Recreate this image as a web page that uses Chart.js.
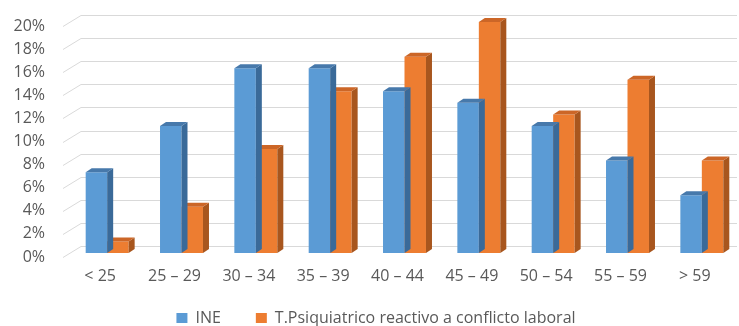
<!DOCTYPE html>
<html>
<head>
<meta charset="utf-8">
<script src="https://cdn.jsdelivr.net/npm/chart.js@4/dist/chart.umd.min.js"></script>
<style>
  html, body { margin: 0; padding: 0; background: #ffffff; }
  #wrap { width: 739px; height: 326px; }
</style>
</head>
<body>
<div id="wrap"><canvas id="chart" width="739" height="326"></canvas></div>
<script>
// Age bands (years)
const categories = ['< 25', '25 – 29', '30 – 34', '35 – 39', '40 – 44', '45 – 49', '50 – 54', '55 – 59', '> 59'];
// Share of each age band, in percent
const ineValues = [7, 11, 16, 16, 14, 13, 11, 8, 5];
const psiqValues = [1, 4, 9, 14, 17, 20, 12, 15, 8];
const seriesNames = ['INE', 'T.Psiquiatrico reactivo a conflicto laboral'];
const yTickLabels = ['0%', '2%', '4%', '6%', '8%', '10%', '12%', '14%', '16%', '18%', '20%'];

const FONT = { family: "'Open Sans', 'Noto Sans', sans-serif", size: 16 };
const TEXT = '#595959';

// Box depth of the extruded bars
const DEPTH_X = 6, DEPTH_Y = -4;
const faceColors = [
  { front: '#5b9bd5', side: '#3a6a99', top: '#4779ab' },
  { front: '#ed7d31', side: '#a8561e', top: '#cc6627' }
];

// Floor-and-wall style gridlines: a short slanted edge on the left, then the back line
const perspectiveGrid = {
  id: 'perspectiveGrid',
  beforeDatasetsDraw(chart) {
    const { ctx, chartArea } = chart;
    const y = chart.scales.y;
    ctx.save();
    ctx.strokeStyle = '#d9d9d9';
    ctx.lineWidth = 1;
    y.ticks.forEach(t => {
      const py = Math.round(y.getPixelForValue(t.value));
      ctx.beginPath();
      ctx.moveTo(chartArea.left - 7, py + 4.5);
      ctx.lineTo(chartArea.left + 11, py - 6.5);
      ctx.lineTo(chart.width - 2, py - 6.5);
      ctx.stroke();
    });
    ctx.restore();
  }
};

// Side and top faces for each bar, drawn right after its own dataset
const barFaces = {
  id: 'barFaces',
  afterDatasetDraw(chart, args) {
    const { ctx } = chart;
    const colors = faceColors[args.index];
    ctx.save();
    args.meta.data.forEach(bar => {
      const { x, y, base, width } = bar.getProps(['x', 'y', 'base', 'width'], true);
      const l = x - width / 2, r = x + width / 2;
      ctx.fillStyle = colors.side;
      ctx.beginPath();
      ctx.moveTo(r, y);
      ctx.lineTo(r + DEPTH_X, y + DEPTH_Y);
      ctx.lineTo(r + DEPTH_X, base + DEPTH_Y);
      ctx.lineTo(r, base);
      ctx.closePath();
      ctx.fill();
      ctx.fillStyle = colors.top;
      ctx.beginPath();
      ctx.moveTo(l, y);
      ctx.lineTo(l + DEPTH_X, y + DEPTH_Y);
      ctx.lineTo(r + DEPTH_X, y + DEPTH_Y);
      ctx.lineTo(r, y);
      ctx.closePath();
      ctx.fill();
    });
    ctx.restore();
  }
};

// Let the legend row start a little higher, closer to the category labels
const legendLift = {
  id: 'legendLift',
  afterLayout(chart) {
    const lg = chart.legend;
    if (lg) { lg.top -= 11; lg.height += 11; }
  }
};

new Chart(document.getElementById('chart'), {
  type: 'bar',
  data: {
    labels: categories,
    datasets: [
      { label: seriesNames[0], data: ineValues, backgroundColor: faceColors[0].front, borderWidth: 0 },
      { label: seriesNames[1], data: psiqValues, backgroundColor: faceColors[1].front, borderWidth: 0 }
    ]
  },
  options: {
    responsive: false,
    animation: false,
    layout: { padding: { left: 13, right: 0, top: 22, bottom: 0 } },
    datasets: { bar: { barPercentage: 1, categoryPercentage: 0.578 } },
    scales: {
      x: {
        grid: { display: false, drawTicks: false },
        border: { display: false },
        ticks: { font: FONT, color: TEXT, padding: 14, labelOffset: -7, maxRotation: 0, autoSkip: false },
        afterFit(scale) { scale.height = 33; scale.paddingLeft = 0; scale.paddingRight = 0; }
      },
      y: {
        min: 0, max: 20,
        grid: { display: false, drawTicks: false },
        border: { display: false },
        ticks: {
          stepSize: 2, autoSkip: false, font: FONT, color: TEXT, padding: 25, labelOffset: 4,
          callback: (v, i) => yTickLabels[i]
        },
        afterFit(scale) { scale.width = 57; scale.paddingTop = 0; scale.paddingBottom = 0; }
      }
    },
    plugins: {
      legend: {
        position: 'bottom',
        maxHeight: 40,
        labels: { font: FONT, color: TEXT, boxWidth: 11, boxHeight: 10, padding: 35 }
      },
      tooltip: { enabled: false }
    }
  },
  plugins: [perspectiveGrid, barFaces, legendLift]
});
</script>
</body>
</html>
